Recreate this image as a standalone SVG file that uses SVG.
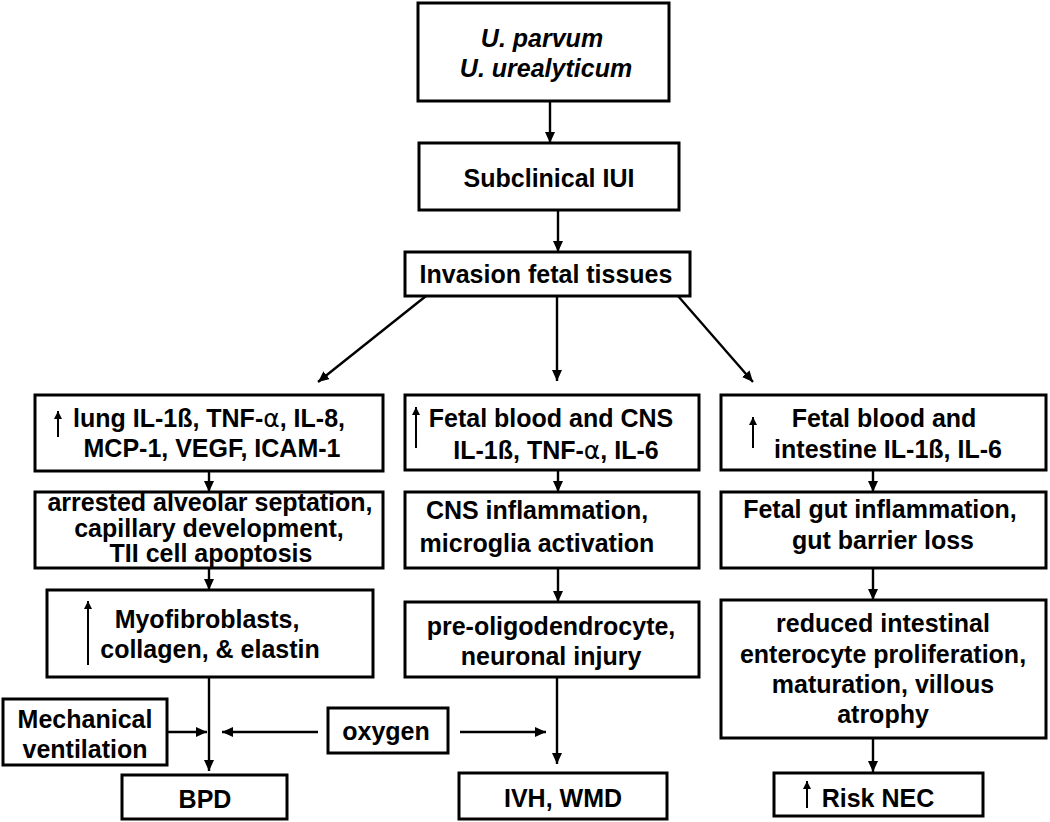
<svg xmlns="http://www.w3.org/2000/svg" width="1050" height="822" viewBox="0 0 1050 822">
<defs>
<marker id="ah" markerUnits="userSpaceOnUse" markerWidth="12" markerHeight="10" refX="11" refY="5" orient="auto">
<path d="M0,0 L11,5 L0,10 z" fill="#000"/>
</marker>
<marker id="uh" markerUnits="userSpaceOnUse" markerWidth="9" markerHeight="8" refX="8" refY="4" orient="auto">
<path d="M0,0 L8,4 L0,8 z" fill="#000"/>
</marker>
<style>
.box{fill:#fff;stroke:#000;stroke-width:3}
.t{font-family:"Liberation Sans",Arial,sans-serif;font-weight:bold;font-size:25px;fill:#000;text-anchor:middle}
.it{font-style:italic}
.al{font-family:"DejaVu Sans",sans-serif;font-weight:normal}
.c{stroke:#000;stroke-width:2.4;fill:none;marker-end:url(#ah)}
.up{stroke:#000;stroke-width:2;fill:none;marker-end:url(#uh)}
</style>
</defs>
<rect width="1050" height="822" fill="#fff"/>

<g id="connectors">
<line class="c" x1="550" y1="101" x2="550" y2="143"/>
<line class="c" x1="558" y1="210" x2="558" y2="252"/>
<line class="c" x1="426" y1="296" x2="318" y2="382"/>
<line class="c" x1="557" y1="296" x2="557" y2="381"/>
<line class="c" x1="678" y1="296" x2="753" y2="382"/>
<line class="c" x1="209" y1="471" x2="209" y2="492"/>
<line class="c" x1="209" y1="568" x2="209" y2="590"/>
<line class="c" x1="209" y1="677" x2="209" y2="771"/>
<line class="c" x1="558" y1="470" x2="558" y2="492"/>
<line class="c" x1="558" y1="568" x2="558" y2="602"/>
<line class="c" x1="557" y1="677" x2="557" y2="764"/>
<line class="c" x1="873" y1="470" x2="873" y2="492"/>
<line class="c" x1="873" y1="568" x2="873" y2="600"/>
<line class="c" x1="873" y1="738" x2="873" y2="772"/>
<line class="c" x1="167" y1="732" x2="207" y2="732"/>
<line class="c" x1="318" y1="732" x2="222" y2="732"/>
<line class="c" x1="460" y1="732" x2="546" y2="732"/>
</g>

<g id="n-ureaplasma">
<rect class="box" x="418" y="3" width="251" height="98"/>
<text class="t it" x="542" y="47">U. parvum</text>
<text class="t it" x="546" y="77">U. urealyticum</text>
</g>

<g id="n-iui">
<rect class="box" x="419" y="143" width="260" height="67"/>
<text class="t" x="549" y="187">Subclinical IUI</text>
</g>

<g id="n-invasion">
<rect class="box" x="405" y="252" width="285" height="44"/>
<text class="t" x="546" y="283">Invasion fetal tissues</text>
</g>

<g id="n-lung">
<rect class="box" x="35" y="395" width="348" height="76"/>
<line class="up" x1="58" y1="437" x2="58" y2="411"/>
<text class="t" x="209" y="427">lung IL-1ß, TNF-<tspan class="al">α</tspan>, IL-8,</text>
<text class="t" x="212" y="457">MCP-1, VEGF, ICAM-1</text>
</g>

<g id="n-cns">
<rect class="box" x="405" y="395" width="294" height="75"/>
<line class="up" x1="416" y1="448" x2="416" y2="407"/>
<text class="t" x="551" y="427">Fetal blood and CNS</text>
<text class="t" x="556" y="459">IL-1ß, TNF-<tspan class="al">α</tspan>, IL-6</text>
</g>

<g id="n-intestine">
<rect class="box" x="721" y="395" width="325" height="75"/>
<line class="up" x1="753" y1="448" x2="753" y2="417"/>
<text class="t" x="884" y="427">Fetal blood and</text>
<text class="t" x="888" y="458">intestine IL-1ß, IL-6</text>
</g>

<g id="n-arrested">
<rect class="box" x="35" y="492" width="348" height="76"/>
<text class="t" x="210" y="511">arrested alveolar septation,</text>
<text class="t" x="209" y="537">capillary development,</text>
<text class="t" x="211" y="562">TII cell apoptosis</text>
</g>

<g id="n-cnsinfl">
<rect class="box" x="405" y="492" width="294" height="76"/>
<text class="t" x="537" y="519">CNS inflammation,</text>
<text class="t" x="537" y="552">microglia activation</text>
</g>

<g id="n-gut">
<rect class="box" x="721" y="492" width="325" height="76"/>
<text class="t" x="880" y="518">Fetal gut inflammation,</text>
<text class="t" x="883" y="549">gut barrier loss</text>
</g>

<g id="n-myo">
<rect class="box" x="47" y="590" width="326" height="87"/>
<line class="up" x1="88" y1="665" x2="88" y2="601"/>
<text class="t" x="207" y="628">Myofibroblasts,</text>
<text class="t" x="210" y="658">collagen, &amp; elastin</text>
</g>

<g id="n-preol">
<rect class="box" x="405" y="602" width="294" height="75"/>
<text class="t" x="551" y="635">pre-oligodendrocyte,</text>
<text class="t" x="551" y="665">neuronal injury</text>
</g>

<g id="n-reduced">
<rect class="box" x="721" y="600" width="325" height="138"/>
<text class="t" x="883" y="632">reduced intestinal</text>
<text class="t" x="883" y="663">enterocyte proliferation,</text>
<text class="t" x="883" y="693">maturation, villous</text>
<text class="t" x="883" y="723">atrophy</text>
</g>

<g id="n-mech">
<rect class="box" x="3" y="699" width="164" height="66"/>
<text class="t" x="85" y="728">Mechanical</text>
<text class="t" x="85" y="758">ventilation</text>
</g>

<g id="n-oxygen">
<rect class="box" x="328" y="708" width="120" height="45"/>
<text class="t" x="386" y="740">oxygen</text>
</g>

<g id="n-bpd">
<rect class="box" x="122" y="775" width="165" height="44"/>
<text class="t" x="205" y="808">BPD</text>
</g>

<g id="n-ivh">
<rect class="box" x="459" y="773" width="208" height="46"/>
<text class="t" x="563" y="807">IVH, WMD</text>
</g>

<g id="n-nec">
<rect class="box" x="774" y="773" width="209" height="43"/>
<line class="up" x1="807" y1="808" x2="807" y2="781"/>
<text class="t" x="878" y="807">Risk NEC</text>
</g>
</svg>
